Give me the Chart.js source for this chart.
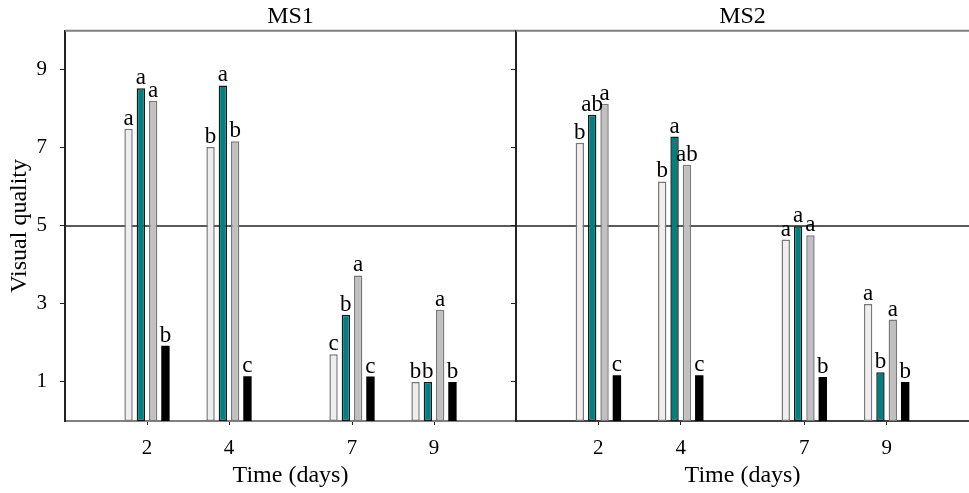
<!DOCTYPE html>
<html>
<head>
<meta charset="utf-8">
<script src="https://cdn.jsdelivr.net/npm/chart.js@4.4.0/dist/chart.umd.min.js"></script>
<style>
  html, body { margin: 0; padding: 0; background: #fff; }
  #wrap { position: relative; width: 969px; height: 493px; overflow: hidden; }
  canvas { position: absolute; top: 0; }
  #ms1 { left: 0; }
  #ms2 { left: 508px; }
</style>
</head>
<body>
<div id="wrap">
  <canvas id="ms1" width="520" height="493"></canvas>
  <canvas id="ms2" width="461" height="493"></canvas>
</div>
<script>
/* ── DATA ── */
const days         = [2, 4, 7, 9];
const qualityTicks = [1, 3, 5, 7, 9];
const threshold    = 5;

// MS1
const ms1White = [7.49, 7.02, 1.71, 1.00];
const ms1Teal  = [8.53, 8.60, 2.72, 1.00];
const ms1Gray  = [8.21, 7.17, 3.73, 2.85];
const ms1Black = [1.93, 1.15, 1.14, 1.00];
const ms1WhiteLetters = ['a', 'b', 'c', 'b'];
const ms1TealLetters  = ['a', 'a', 'b', 'b'];
const ms1GrayLetters  = ['a', 'b', 'a', 'a'];
const ms1BlackLetters = ['b', 'c', 'c', 'b'];

// MS2
const ms2White = [7.13, 6.14, 4.65, 3.00];
const ms2Teal  = [7.85, 7.29, 4.99, 1.25];
const ms2Gray  = [8.13, 6.57, 4.76, 2.60];
const ms2Black = [1.17, 1.17, 1.13, 1.00];
const ms2WhiteLetters = ['b', 'b', 'a', 'a'];
const ms2TealLetters  = ['ab', 'a', 'a', 'b'];
const ms2GrayLetters  = ['a', 'ab', 'a', 'a'];
const ms2BlackLetters = ['c', 'c', 'b', 'b'];

/* ── STYLE ── */
const FONT = "'Liberation Serif', 'Times New Roman', serif";
const SERIES = [
  { fill: '#eeeeee', border: '#787878', bw: 1.5 },
  { fill: '#008080', border: '#1a1a1a', bw: 1.5 },
  { fill: '#c0c0c0', border: '#787878', bw: 1.5 },
  { fill: '#000000', border: '#000000', bw: 0 }
];

function barSet(values, letters, s) {
  return {
    type: 'bar',
    order: 0,
    data: days.map((d, i) => ({ x: d, y: values[i] })),
    letters: letters,
    backgroundColor: s.fill,
    borderColor: s.border,
    borderWidth: s.bw,
    borderSkipped: false,
    categoryPercentage: 0.6,
    barPercentage: 0.68
  };
}

function refLine() {
  return {
    type: 'line',
    order: 1,
    data: [{ x: 0, y: threshold }, { x: 11, y: threshold }],
    borderColor: '#222',
    borderWidth: 1.5,
    pointRadius: 0,
    fill: false
  };
}

// letters above the bars
const letterPlugin = {
  id: 'letters',
  afterDatasetsDraw(chart) {
    const { ctx } = chart;
    ctx.save();
    ctx.font = `23px ${FONT}`;
    ctx.fillStyle = '#000';
    ctx.textAlign = 'center';
    ctx.textBaseline = 'alphabetic';
    chart.data.datasets.forEach((ds, di) => {
      if (!ds.letters) return;
      chart.getDatasetMeta(di).data.forEach((bar, i) => {
        ctx.fillText(ds.letters[i], bar.x, bar.y - 4);
      });
    });
    ctx.restore();
  }
};

// top / right frame
function framePlugin(drawRight) {
  return {
    id: 'frame',
    afterDraw(chart) {
      const { ctx, chartArea: a } = chart;
      ctx.save();
      ctx.strokeStyle = '#808080';
      ctx.lineWidth = 2;
      ctx.beginPath();
      ctx.moveTo(a.left, a.top);
      ctx.lineTo(drawRight ? a.right : chart.width, a.top);
      ctx.stroke();
      if (drawRight) {
        ctx.strokeStyle = '#222';
        ctx.lineWidth = 2;
        ctx.beginPath();
        ctx.moveTo(a.right, a.top);
        ctx.lineTo(a.right, a.bottom);
        ctx.stroke();
      }
      ctx.restore();
    }
  };
}

function panel(canvasId, title, sets, isLeft) {
  return new Chart(document.getElementById(canvasId), {
    type: 'bar',
    plugins: [letterPlugin, framePlugin(isLeft)],
    data: {
      datasets: [
        barSet(sets[0][0], sets[0][1], SERIES[0]),
        barSet(sets[1][0], sets[1][1], SERIES[1]),
        barSet(sets[2][0], sets[2][1], SERIES[2]),
        barSet(sets[3][0], sets[3][1], SERIES[3]),
        refLine()
      ]
    },
    options: {
      responsive: false,
      animation: false,
      layout: { padding: { left: 0, right: isLeft ? 4 : 0, top: 0, bottom: 0 } },
      plugins: {
        legend: { display: false },
        tooltip: { enabled: false },
        title: {
          display: true,
          text: title,
          fullSize: false,
          color: '#000',
          font: { family: FONT, size: 24, weight: 'normal' },
          padding: { top: 2, bottom: 0 }
        }
      },
      scales: {
        x: {
          type: 'linear',
          position: 'bottom',
          min: 0,
          max: 11,
          offset: false,
          afterBuildTicks: s => { s.ticks = days.map(v => ({ value: v })); },
          afterFit: s => { s.height = 72; },
          grid: { offset: false, drawOnChartArea: false, drawTicks: true, tickLength: 4, color: '#222', tickWidth: 1 },
          border: { color: isLeft ? '#808080' : '#444', width: 2 },
          ticks: { color: '#000', font: { family: FONT, size: 21 }, padding: 11 },
          title: {
            display: true,
            text: 'Time (days)',
            color: '#000',
            font: { family: FONT, size: 24 },
            padding: { top: 0, bottom: 3 }
          }
        },
        y: {
          min: 0,
          max: 10,
          afterBuildTicks: s => { s.ticks = qualityTicks.map(v => ({ value: v })); },
          afterFit: s => { s.width = isLeft ? 65 : 8; },
          grid: { drawOnChartArea: false, drawTicks: true, tickLength: 5, color: '#222', tickWidth: 1 },
          border: { color: '#222', width: 2 },
          ticks: { display: isLeft, color: '#000', font: { family: FONT, size: 21 }, padding: 13 },
          title: {
            display: isLeft,
            text: 'Visual quality',
            color: '#000',
            font: { family: FONT, size: 24 },
            padding: { top: 5, bottom: 0 }
          }
        }
      }
    }
  });
}

panel('ms1', 'MS1', [
  [ms1White, ms1WhiteLetters],
  [ms1Teal,  ms1TealLetters],
  [ms1Gray,  ms1GrayLetters],
  [ms1Black, ms1BlackLetters]
], true);

panel('ms2', 'MS2', [
  [ms2White, ms2WhiteLetters],
  [ms2Teal,  ms2TealLetters],
  [ms2Gray,  ms2GrayLetters],
  [ms2Black, ms2BlackLetters]
], false);
</script>
</body>
</html>
